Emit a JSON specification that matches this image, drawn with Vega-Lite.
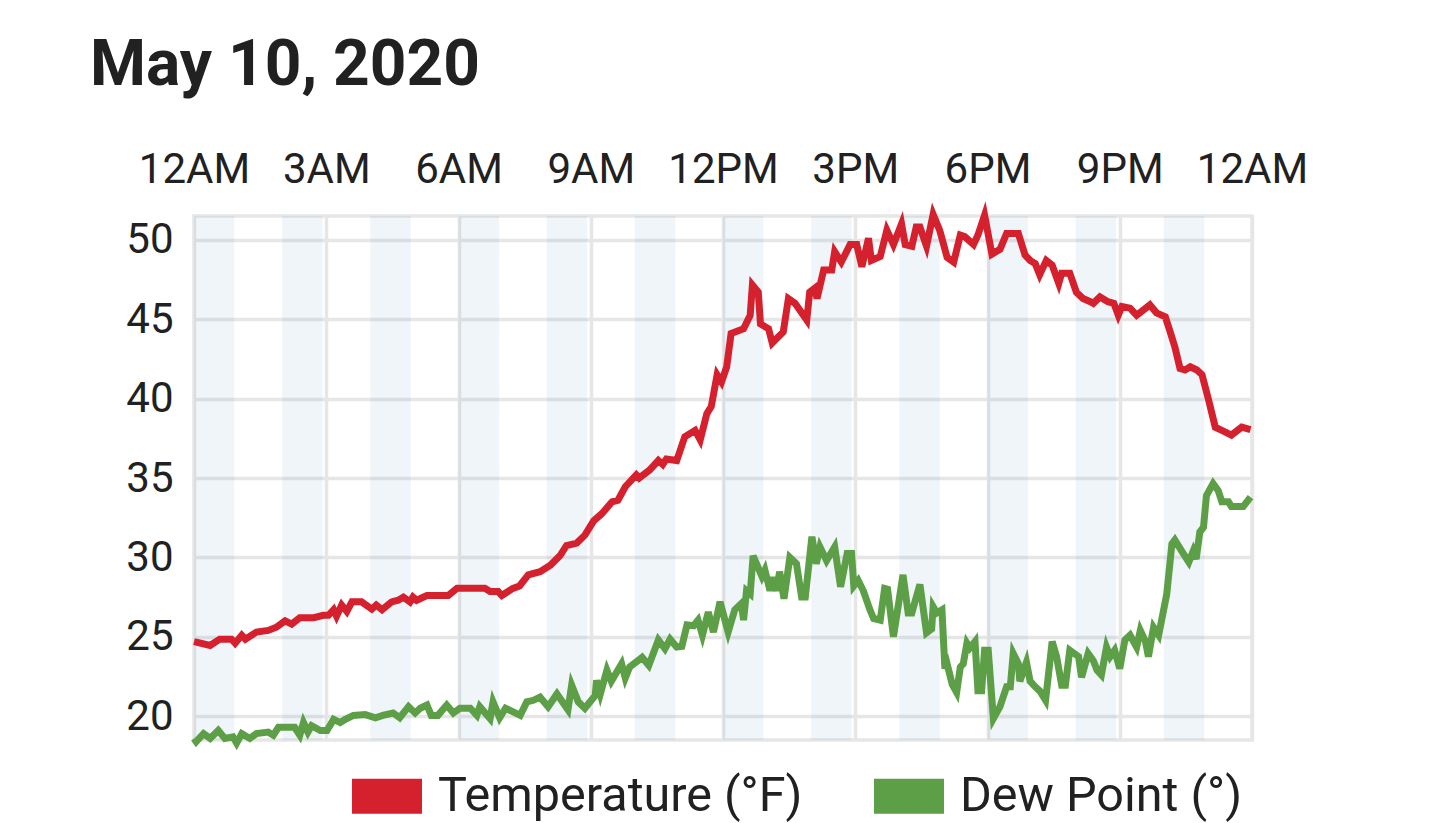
{
  "$schema": "https://vega.github.io/schema/vega-lite/v6.json",
  "width": 1058,
  "height": 524,
  "autosize": "none",
  "padding": {"left": 194, "top": 216, "right": 188, "bottom": 83},
  "title": {
    "text": "May 10, 2020",
    "anchor": "start",
    "frame": "group",
    "dx": -104,
    "offset": -1,
    "baseline": "alphabetic",
    "font": "Roboto",
    "fontSize": 64,
    "fontWeight": "bold",
    "color": "#212121"
  },
  "datasets": {
    "bands": [
      {"start": "2020-05-10T00:00", "end": "2020-05-10T00:55"},
      {"start": "2020-05-10T02:00", "end": "2020-05-10T02:55"},
      {"start": "2020-05-10T04:00", "end": "2020-05-10T04:55"},
      {"start": "2020-05-10T06:00", "end": "2020-05-10T06:55"},
      {"start": "2020-05-10T08:00", "end": "2020-05-10T08:55"},
      {"start": "2020-05-10T10:00", "end": "2020-05-10T10:55"},
      {"start": "2020-05-10T12:00", "end": "2020-05-10T12:55"},
      {"start": "2020-05-10T14:00", "end": "2020-05-10T14:55"},
      {"start": "2020-05-10T16:00", "end": "2020-05-10T16:55"},
      {"start": "2020-05-10T18:00", "end": "2020-05-10T18:55"},
      {"start": "2020-05-10T20:00", "end": "2020-05-10T20:55"},
      {"start": "2020-05-10T22:00", "end": "2020-05-10T22:55"}
    ],
    "temperature": [
      {"time": "2020-05-10T00:00", "value": 24.7},
      {"time": "2020-05-10T00:22", "value": 24.45},
      {"time": "2020-05-10T00:35", "value": 24.85},
      {"time": "2020-05-10T00:51", "value": 24.85},
      {"time": "2020-05-10T00:56", "value": 24.6},
      {"time": "2020-05-10T01:05", "value": 25.1},
      {"time": "2020-05-10T01:10", "value": 24.85},
      {"time": "2020-05-10T01:25", "value": 25.3},
      {"time": "2020-05-10T01:41", "value": 25.4},
      {"time": "2020-05-10T01:52", "value": 25.6},
      {"time": "2020-05-10T02:04", "value": 26.0},
      {"time": "2020-05-10T02:13", "value": 25.8},
      {"time": "2020-05-10T02:24", "value": 26.2},
      {"time": "2020-05-10T02:43", "value": 26.2},
      {"time": "2020-05-10T02:56", "value": 26.35},
      {"time": "2020-05-10T03:03", "value": 26.35},
      {"time": "2020-05-10T03:10", "value": 26.7},
      {"time": "2020-05-10T03:14", "value": 26.3},
      {"time": "2020-05-10T03:21", "value": 27.0},
      {"time": "2020-05-10T03:28", "value": 26.6},
      {"time": "2020-05-10T03:35", "value": 27.2},
      {"time": "2020-05-10T03:48", "value": 27.2},
      {"time": "2020-05-10T04:02", "value": 26.75},
      {"time": "2020-05-10T04:08", "value": 27.0},
      {"time": "2020-05-10T04:16", "value": 26.7},
      {"time": "2020-05-10T04:29", "value": 27.2},
      {"time": "2020-05-10T04:38", "value": 27.3},
      {"time": "2020-05-10T04:45", "value": 27.5},
      {"time": "2020-05-10T04:54", "value": 27.2},
      {"time": "2020-05-10T04:58", "value": 27.5},
      {"time": "2020-05-10T05:03", "value": 27.3},
      {"time": "2020-05-10T05:17", "value": 27.6},
      {"time": "2020-05-10T05:46", "value": 27.6},
      {"time": "2020-05-10T05:58", "value": 28.05},
      {"time": "2020-05-10T06:36", "value": 28.05},
      {"time": "2020-05-10T06:43", "value": 27.85},
      {"time": "2020-05-10T06:54", "value": 27.85},
      {"time": "2020-05-10T06:59", "value": 27.6},
      {"time": "2020-05-10T07:14", "value": 28.05},
      {"time": "2020-05-10T07:23", "value": 28.2},
      {"time": "2020-05-10T07:35", "value": 28.9},
      {"time": "2020-05-10T07:51", "value": 29.1},
      {"time": "2020-05-10T08:05", "value": 29.5},
      {"time": "2020-05-10T08:18", "value": 30.1},
      {"time": "2020-05-10T08:27", "value": 30.75},
      {"time": "2020-05-10T08:41", "value": 30.9},
      {"time": "2020-05-10T08:52", "value": 31.4},
      {"time": "2020-05-10T09:04", "value": 32.3},
      {"time": "2020-05-10T09:15", "value": 32.75},
      {"time": "2020-05-10T09:29", "value": 33.5},
      {"time": "2020-05-10T09:37", "value": 33.6},
      {"time": "2020-05-10T09:47", "value": 34.45},
      {"time": "2020-05-10T10:02", "value": 35.2},
      {"time": "2020-05-10T10:06", "value": 35.0},
      {"time": "2020-05-10T10:20", "value": 35.5},
      {"time": "2020-05-10T10:32", "value": 36.1},
      {"time": "2020-05-10T10:38", "value": 35.85},
      {"time": "2020-05-10T10:43", "value": 36.2},
      {"time": "2020-05-10T10:57", "value": 36.1},
      {"time": "2020-05-10T11:08", "value": 37.6},
      {"time": "2020-05-10T11:22", "value": 38.0},
      {"time": "2020-05-10T11:29", "value": 37.4},
      {"time": "2020-05-10T11:38", "value": 39.05},
      {"time": "2020-05-10T11:44", "value": 39.5},
      {"time": "2020-05-10T11:52", "value": 41.5},
      {"time": "2020-05-10T11:58", "value": 41.05},
      {"time": "2020-05-10T12:05", "value": 42.0},
      {"time": "2020-05-10T12:11", "value": 44.1},
      {"time": "2020-05-10T12:28", "value": 44.4},
      {"time": "2020-05-10T12:37", "value": 45.25},
      {"time": "2020-05-10T12:40", "value": 47.15},
      {"time": "2020-05-10T12:48", "value": 46.7},
      {"time": "2020-05-10T12:51", "value": 44.7},
      {"time": "2020-05-10T13:02", "value": 44.4},
      {"time": "2020-05-10T13:07", "value": 43.5},
      {"time": "2020-05-10T13:22", "value": 44.2},
      {"time": "2020-05-10T13:29", "value": 46.3},
      {"time": "2020-05-10T13:38", "value": 46.0},
      {"time": "2020-05-10T13:54", "value": 44.95},
      {"time": "2020-05-10T13:58", "value": 46.7},
      {"time": "2020-05-10T14:05", "value": 46.95},
      {"time": "2020-05-10T14:08", "value": 46.3},
      {"time": "2020-05-10T14:17", "value": 48.1},
      {"time": "2020-05-10T14:28", "value": 48.1},
      {"time": "2020-05-10T14:32", "value": 49.25},
      {"time": "2020-05-10T14:41", "value": 48.6},
      {"time": "2020-05-10T14:53", "value": 49.7},
      {"time": "2020-05-10T15:02", "value": 49.7},
      {"time": "2020-05-10T15:09", "value": 48.3},
      {"time": "2020-05-10T15:18", "value": 50.1},
      {"time": "2020-05-10T15:22", "value": 48.7},
      {"time": "2020-05-10T15:34", "value": 48.95},
      {"time": "2020-05-10T15:43", "value": 50.6},
      {"time": "2020-05-10T15:52", "value": 49.7},
      {"time": "2020-05-10T16:03", "value": 51.0},
      {"time": "2020-05-10T16:08", "value": 49.7},
      {"time": "2020-05-10T16:17", "value": 49.6},
      {"time": "2020-05-10T16:23", "value": 50.8},
      {"time": "2020-05-10T16:28", "value": 50.8},
      {"time": "2020-05-10T16:37", "value": 49.6},
      {"time": "2020-05-10T16:46", "value": 51.6},
      {"time": "2020-05-10T16:55", "value": 50.6},
      {"time": "2020-05-10T17:05", "value": 48.9},
      {"time": "2020-05-10T17:14", "value": 48.6},
      {"time": "2020-05-10T17:23", "value": 50.3},
      {"time": "2020-05-10T17:29", "value": 50.2},
      {"time": "2020-05-10T17:41", "value": 49.7},
      {"time": "2020-05-10T17:47", "value": 50.3},
      {"time": "2020-05-10T17:56", "value": 51.55},
      {"time": "2020-05-10T18:06", "value": 49.1},
      {"time": "2020-05-10T18:17", "value": 49.4},
      {"time": "2020-05-10T18:26", "value": 50.4},
      {"time": "2020-05-10T18:42", "value": 50.4},
      {"time": "2020-05-10T18:51", "value": 49.05},
      {"time": "2020-05-10T18:58", "value": 48.7},
      {"time": "2020-05-10T19:05", "value": 48.5},
      {"time": "2020-05-10T19:11", "value": 47.8},
      {"time": "2020-05-10T19:20", "value": 48.7},
      {"time": "2020-05-10T19:28", "value": 48.4},
      {"time": "2020-05-10T19:37", "value": 47.25},
      {"time": "2020-05-10T19:41", "value": 47.9},
      {"time": "2020-05-10T19:52", "value": 47.9},
      {"time": "2020-05-10T20:01", "value": 46.7},
      {"time": "2020-05-10T20:10", "value": 46.3},
      {"time": "2020-05-10T20:20", "value": 46.1},
      {"time": "2020-05-10T20:24", "value": 46.0},
      {"time": "2020-05-10T20:33", "value": 46.4},
      {"time": "2020-05-10T20:44", "value": 46.1},
      {"time": "2020-05-10T20:52", "value": 46.0},
      {"time": "2020-05-10T20:58", "value": 45.25},
      {"time": "2020-05-10T21:03", "value": 45.8},
      {"time": "2020-05-10T21:14", "value": 45.7},
      {"time": "2020-05-10T21:23", "value": 45.25},
      {"time": "2020-05-10T21:41", "value": 45.9},
      {"time": "2020-05-10T21:50", "value": 45.4},
      {"time": "2020-05-10T22:02", "value": 45.15},
      {"time": "2020-05-10T22:08", "value": 44.3},
      {"time": "2020-05-10T22:15", "value": 43.25},
      {"time": "2020-05-10T22:22", "value": 41.9},
      {"time": "2020-05-10T22:29", "value": 41.8},
      {"time": "2020-05-10T22:36", "value": 42.0},
      {"time": "2020-05-10T22:45", "value": 41.8},
      {"time": "2020-05-10T22:52", "value": 41.5},
      {"time": "2020-05-10T23:01", "value": 39.9},
      {"time": "2020-05-10T23:10", "value": 38.2},
      {"time": "2020-05-10T23:19", "value": 38.0},
      {"time": "2020-05-10T23:32", "value": 37.7},
      {"time": "2020-05-10T23:46", "value": 38.2},
      {"time": "2020-05-10T23:58", "value": 38.05}
    ],
    "dewpoint": [
      {"time": "2020-05-10T00:00", "value": 18.6},
      {"time": "2020-05-10T00:03", "value": 18.4},
      {"time": "2020-05-10T00:13", "value": 18.9},
      {"time": "2020-05-10T00:22", "value": 18.6},
      {"time": "2020-05-10T00:33", "value": 19.1},
      {"time": "2020-05-10T00:42", "value": 18.6},
      {"time": "2020-05-10T00:53", "value": 18.7},
      {"time": "2020-05-10T00:58", "value": 18.3},
      {"time": "2020-05-10T01:05", "value": 18.9},
      {"time": "2020-05-10T01:16", "value": 18.6},
      {"time": "2020-05-10T01:25", "value": 18.9},
      {"time": "2020-05-10T01:41", "value": 19.0},
      {"time": "2020-05-10T01:48", "value": 18.8},
      {"time": "2020-05-10T01:55", "value": 19.3},
      {"time": "2020-05-10T02:17", "value": 19.3},
      {"time": "2020-05-10T02:24", "value": 18.8},
      {"time": "2020-05-10T02:29", "value": 19.6},
      {"time": "2020-05-10T02:35", "value": 19.0},
      {"time": "2020-05-10T02:40", "value": 19.4},
      {"time": "2020-05-10T02:52", "value": 19.1},
      {"time": "2020-05-10T03:01", "value": 19.1},
      {"time": "2020-05-10T03:10", "value": 19.8},
      {"time": "2020-05-10T03:19", "value": 19.6},
      {"time": "2020-05-10T03:26", "value": 19.8},
      {"time": "2020-05-10T03:37", "value": 20.05},
      {"time": "2020-05-10T03:53", "value": 20.1},
      {"time": "2020-05-10T04:07", "value": 19.9},
      {"time": "2020-05-10T04:17", "value": 20.05},
      {"time": "2020-05-10T04:31", "value": 20.2},
      {"time": "2020-05-10T04:40", "value": 19.9},
      {"time": "2020-05-10T04:52", "value": 20.6},
      {"time": "2020-05-10T05:01", "value": 20.2},
      {"time": "2020-05-10T05:08", "value": 20.5},
      {"time": "2020-05-10T05:17", "value": 20.7},
      {"time": "2020-05-10T05:23", "value": 20.05},
      {"time": "2020-05-10T05:32", "value": 20.05},
      {"time": "2020-05-10T05:44", "value": 20.7},
      {"time": "2020-05-10T05:53", "value": 20.2},
      {"time": "2020-05-10T06:02", "value": 20.5},
      {"time": "2020-05-10T06:16", "value": 20.5},
      {"time": "2020-05-10T06:25", "value": 20.05},
      {"time": "2020-05-10T06:29", "value": 20.6},
      {"time": "2020-05-10T06:43", "value": 19.85},
      {"time": "2020-05-10T06:47", "value": 20.9},
      {"time": "2020-05-10T06:56", "value": 19.9},
      {"time": "2020-05-10T07:04", "value": 20.5},
      {"time": "2020-05-10T07:24", "value": 20.05},
      {"time": "2020-05-10T07:33", "value": 20.9},
      {"time": "2020-05-10T07:42", "value": 21.0},
      {"time": "2020-05-10T07:51", "value": 21.2},
      {"time": "2020-05-10T08:02", "value": 20.6},
      {"time": "2020-05-10T08:14", "value": 21.4},
      {"time": "2020-05-10T08:29", "value": 20.4},
      {"time": "2020-05-10T08:34", "value": 21.95},
      {"time": "2020-05-10T08:43", "value": 20.9},
      {"time": "2020-05-10T08:52", "value": 20.5},
      {"time": "2020-05-10T09:06", "value": 21.3},
      {"time": "2020-05-10T09:08", "value": 22.25},
      {"time": "2020-05-10T09:13", "value": 21.4},
      {"time": "2020-05-10T09:22", "value": 22.9},
      {"time": "2020-05-10T09:28", "value": 22.2},
      {"time": "2020-05-10T09:42", "value": 23.3},
      {"time": "2020-05-10T09:47", "value": 22.4},
      {"time": "2020-05-10T09:53", "value": 23.1},
      {"time": "2020-05-10T10:10", "value": 23.7},
      {"time": "2020-05-10T10:19", "value": 23.2},
      {"time": "2020-05-10T10:32", "value": 24.8},
      {"time": "2020-05-10T10:41", "value": 24.25},
      {"time": "2020-05-10T10:48", "value": 24.85},
      {"time": "2020-05-10T10:57", "value": 24.35},
      {"time": "2020-05-10T11:04", "value": 24.4},
      {"time": "2020-05-10T11:11", "value": 25.75},
      {"time": "2020-05-10T11:20", "value": 25.7},
      {"time": "2020-05-10T11:26", "value": 26.05},
      {"time": "2020-05-10T11:32", "value": 25.1},
      {"time": "2020-05-10T11:40", "value": 26.55},
      {"time": "2020-05-10T11:47", "value": 25.3},
      {"time": "2020-05-10T11:56", "value": 27.2},
      {"time": "2020-05-10T12:07", "value": 25.3},
      {"time": "2020-05-10T12:16", "value": 26.7},
      {"time": "2020-05-10T12:25", "value": 27.1},
      {"time": "2020-05-10T12:28", "value": 26.05},
      {"time": "2020-05-10T12:32", "value": 27.9},
      {"time": "2020-05-10T12:37", "value": 27.7},
      {"time": "2020-05-10T12:41", "value": 30.1},
      {"time": "2020-05-10T12:53", "value": 28.8},
      {"time": "2020-05-10T12:57", "value": 29.2},
      {"time": "2020-05-10T13:04", "value": 27.9},
      {"time": "2020-05-10T13:08", "value": 28.75},
      {"time": "2020-05-10T13:13", "value": 27.9},
      {"time": "2020-05-10T13:17", "value": 29.1},
      {"time": "2020-05-10T13:23", "value": 27.4},
      {"time": "2020-05-10T13:31", "value": 30.0},
      {"time": "2020-05-10T13:40", "value": 29.6},
      {"time": "2020-05-10T13:47", "value": 27.5},
      {"time": "2020-05-10T13:52", "value": 27.5},
      {"time": "2020-05-10T14:01", "value": 31.3},
      {"time": "2020-05-10T14:07", "value": 29.6},
      {"time": "2020-05-10T14:12", "value": 30.65},
      {"time": "2020-05-10T14:21", "value": 29.8},
      {"time": "2020-05-10T14:32", "value": 30.65},
      {"time": "2020-05-10T14:40", "value": 28.15},
      {"time": "2020-05-10T14:49", "value": 30.25},
      {"time": "2020-05-10T14:55", "value": 30.25},
      {"time": "2020-05-10T14:58", "value": 28.2},
      {"time": "2020-05-10T15:04", "value": 28.55},
      {"time": "2020-05-10T15:11", "value": 27.9},
      {"time": "2020-05-10T15:20", "value": 26.7},
      {"time": "2020-05-10T15:25", "value": 26.15},
      {"time": "2020-05-10T15:34", "value": 26.05},
      {"time": "2020-05-10T15:40", "value": 28.05},
      {"time": "2020-05-10T15:44", "value": 28.0},
      {"time": "2020-05-10T15:52", "value": 25.0},
      {"time": "2020-05-10T16:05", "value": 28.9},
      {"time": "2020-05-10T16:12", "value": 26.5},
      {"time": "2020-05-10T16:17", "value": 26.5},
      {"time": "2020-05-10T16:28", "value": 28.3},
      {"time": "2020-05-10T16:37", "value": 25.25},
      {"time": "2020-05-10T16:44", "value": 25.5},
      {"time": "2020-05-10T16:46", "value": 26.9},
      {"time": "2020-05-10T16:51", "value": 26.5},
      {"time": "2020-05-10T16:58", "value": 26.7},
      {"time": "2020-05-10T17:02", "value": 23.0},
      {"time": "2020-05-10T17:05", "value": 23.3},
      {"time": "2020-05-10T17:12", "value": 22.0},
      {"time": "2020-05-10T17:18", "value": 21.5},
      {"time": "2020-05-10T17:23", "value": 23.1},
      {"time": "2020-05-10T17:27", "value": 23.3},
      {"time": "2020-05-10T17:32", "value": 24.6},
      {"time": "2020-05-10T17:36", "value": 24.3},
      {"time": "2020-05-10T17:43", "value": 24.7},
      {"time": "2020-05-10T17:47", "value": 21.6},
      {"time": "2020-05-10T17:52", "value": 21.6},
      {"time": "2020-05-10T17:56", "value": 24.15},
      {"time": "2020-05-10T18:01", "value": 24.15},
      {"time": "2020-05-10T18:08", "value": 19.85},
      {"time": "2020-05-10T18:17", "value": 20.6},
      {"time": "2020-05-10T18:26", "value": 21.85},
      {"time": "2020-05-10T18:31", "value": 21.85},
      {"time": "2020-05-10T18:35", "value": 23.95},
      {"time": "2020-05-10T18:42", "value": 23.3},
      {"time": "2020-05-10T18:44", "value": 22.2},
      {"time": "2020-05-10T18:53", "value": 23.4},
      {"time": "2020-05-10T18:58", "value": 22.2},
      {"time": "2020-05-10T19:05", "value": 21.85},
      {"time": "2020-05-10T19:11", "value": 21.6},
      {"time": "2020-05-10T19:19", "value": 21.0},
      {"time": "2020-05-10T19:28", "value": 24.7},
      {"time": "2020-05-10T19:34", "value": 23.75},
      {"time": "2020-05-10T19:41", "value": 21.95},
      {"time": "2020-05-10T19:46", "value": 21.95},
      {"time": "2020-05-10T19:52", "value": 24.15},
      {"time": "2020-05-10T20:04", "value": 23.75},
      {"time": "2020-05-10T20:08", "value": 22.45},
      {"time": "2020-05-10T20:17", "value": 23.95},
      {"time": "2020-05-10T20:24", "value": 23.5},
      {"time": "2020-05-10T20:29", "value": 22.9},
      {"time": "2020-05-10T20:35", "value": 22.6},
      {"time": "2020-05-10T20:42", "value": 24.35},
      {"time": "2020-05-10T20:47", "value": 23.75},
      {"time": "2020-05-10T20:53", "value": 24.15},
      {"time": "2020-05-10T21:00", "value": 23.0},
      {"time": "2020-05-10T21:07", "value": 24.8},
      {"time": "2020-05-10T21:14", "value": 25.1},
      {"time": "2020-05-10T21:23", "value": 24.35},
      {"time": "2020-05-10T21:28", "value": 25.4},
      {"time": "2020-05-10T21:35", "value": 24.7},
      {"time": "2020-05-10T21:39", "value": 23.75},
      {"time": "2020-05-10T21:46", "value": 25.6},
      {"time": "2020-05-10T21:53", "value": 25.1},
      {"time": "2020-05-10T22:04", "value": 27.7},
      {"time": "2020-05-10T22:11", "value": 30.85},
      {"time": "2020-05-10T22:15", "value": 31.1},
      {"time": "2020-05-10T22:25", "value": 30.35},
      {"time": "2020-05-10T22:34", "value": 29.7},
      {"time": "2020-05-10T22:40", "value": 30.4},
      {"time": "2020-05-10T22:44", "value": 29.9},
      {"time": "2020-05-10T22:49", "value": 31.6},
      {"time": "2020-05-10T22:54", "value": 31.9},
      {"time": "2020-05-10T22:58", "value": 33.9},
      {"time": "2020-05-10T23:07", "value": 34.65},
      {"time": "2020-05-10T23:14", "value": 34.2},
      {"time": "2020-05-10T23:19", "value": 33.5},
      {"time": "2020-05-10T23:28", "value": 33.5},
      {"time": "2020-05-10T23:32", "value": 33.2},
      {"time": "2020-05-10T23:48", "value": 33.2},
      {"time": "2020-05-10T23:58", "value": 33.8}
    ]
  },
  "layer": [
    {
      "data": {"name": "bands"},
      "mark": {"type": "rect", "color": "#6a9fd0", "opacity": 0.1},
      "encoding": {
        "x": {
          "field": "start",
          "type": "temporal",
          "scale": {
            "domain": [
              {"year": 2020, "month": 5, "date": 10, "hours": 0},
              {"year": 2020, "month": 5, "date": 11, "hours": 0}
            ],
            "nice": false
          },
          "axis": {
            "orient": "top",
            "title": null,
            "format": "%-I%p",
            "tickCount": 8,
            "labelFlush": false,
            "labelOverlap": false,
            "labelFont": "Roboto",
            "labelFontSize": 42,
            "labelColor": "#212121",
            "labelBaseline": "alphabetic",
            "labelPadding": 34,
            "ticks": false,
            "tickSize": 0,
            "domain": false,
            "grid": true,
            "gridColor": "#e6e6e6",
            "gridWidth": 3.5
          }
        },
        "x2": {"field": "end"}
      }
    },
    {
      "data": {"name": "temperature"},
      "mark": {"type": "line", "strokeWidth": 7},
      "encoding": {
        "x": {"field": "time", "type": "temporal"},
        "y": {
          "field": "value",
          "type": "quantitative",
          "scale": {"domain": [18.5, 51.5], "nice": false, "zero": false},
          "axis": {
            "title": null,
            "values": [20, 25, 30, 35, 40, 45, 50],
            "labelFont": "Roboto",
            "labelFontSize": 42,
            "labelColor": "#212121",
            "labelPadding": 21,
            "ticks": false,
            "tickSize": 0,
            "domain": false,
            "grid": true,
            "gridColor": "#e6e6e6",
            "gridWidth": 3.5
          }
        },
        "color": {
          "datum": "Temperature (°F)",
          "type": "nominal",
          "scale": {
            "domain": ["Temperature (°F)", "Dew Point (°)"],
            "range": ["#d5212e", "#5c9f47"]
          },
          "legend": {
            "orient": "none",
            "legendX": 158,
            "legendY": 545,
            "direction": "horizontal",
            "title": null,
            "padding": 0,
            "symbolType": "M-1,-0.5H1V0.5H-1Z",
            "symbolSize": 4900,
            "symbolStrokeWidth": 0,
            "labelFont": "Roboto",
            "labelFontSize": 48.5,
            "labelColor": "#212121",
            "labelOffset": 16,
            "labelLimit": 1000,
            "columnPadding": 71,
            "encode": {
              "symbols": {
                "update": {
                  "fill": {"scale": "color", "field": "value"},
                  "fillOpacity": {"value": 1}
                }
              }
            }
          }
        }
      }
    },
    {
      "data": {"name": "dewpoint"},
      "mark": {"type": "line", "strokeWidth": 7},
      "encoding": {
        "x": {"field": "time", "type": "temporal"},
        "y": {"field": "value", "type": "quantitative"},
        "color": {"datum": "Dew Point (°)", "type": "nominal"}
      }
    }
  ],
  "config": {
    "view": {"stroke": "#e6e6e6", "strokeWidth": 3.5}
  }
}
